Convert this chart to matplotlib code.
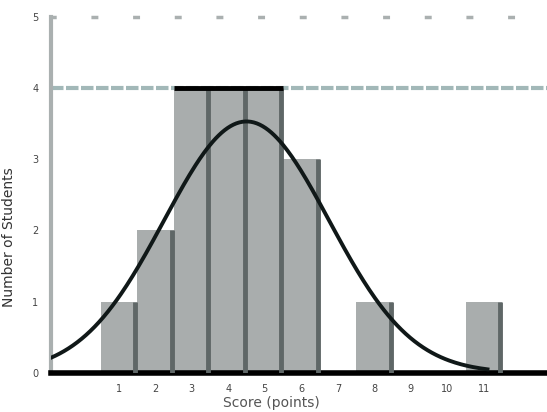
import numpy as np
import matplotlib
matplotlib.use('Agg')
import matplotlib.pyplot as plt

# 柱子：每个区间的频数
bins = [1, 2, 3, 4, 5, 6, 7, 8, 9, 10, 11]
counts = [1, 2, 4, 4, 4, 3, 0, 1, 0, 0, 1]
x_tick_labels = ['1', '2', '3', '4', '5', '6', '7', '8', '9', '10', '11']
y_ticks = [0, 1, 2, 3, 4, 5]

bar_fill = '#a9adad'
bar_edge = '#5f6767'

fig = plt.figure(figsize=(5.47, 4.12), dpi=100)
ax = fig.add_axes([0.093, 0.095, 0.907, 0.864])

b = np.array(bins, dtype=float)
c = np.array(counts, dtype=float)

# 直方图柱子 + 右侧深色边
ax.bar(b, c, width=1.0, color=bar_fill, edgecolor='none', zorder=2)
ax.vlines(b[c > 0] + 0.45, 0, c[c > 0], color=bar_edge, lw=3.5, zorder=3)

# 最大值参考线
ax.axhline(c.max(), color='#a2b8b8', lw=3, ls=(0, (3, 0.6)), zorder=1)
top = b[c == c.max()]
ax.hlines(c.max(), top.min() - 0.5, top.max() + 0.5, color='black', lw=3.5, zorder=3)

# 正态拟合曲线（由柱子数据求均值和标准差）
n = c.sum()
mean = (b * c).sum() / n
sd = np.sqrt(((b - mean) ** 2 * c).sum() / (n - 1))
xs = np.linspace(-0.86, 11.1, 300)
ys = n / (sd * np.sqrt(2 * np.pi)) * np.exp(-(xs - mean) ** 2 / (2 * sd ** 2))
ax.plot(xs, ys, color='#101818', lw=2.8, zorder=4)

ax.set_xlim(-0.86, 12.73)
ax.set_ylim(0, 5)
ax.set_xticks(bins)
ax.set_xticklabels(x_tick_labels)
ax.set_yticks(y_ticks)
ax.tick_params(axis='both', length=0, labelsize=7, colors='#444444')
ax.tick_params(axis='x', pad=8)
ax.tick_params(axis='y', pad=9)

ax.spines['right'].set_visible(False)
ax.spines['left'].set_color('#aab0b0')
ax.spines['left'].set_linewidth(3)
ax.spines['bottom'].set_color('black')
ax.spines['bottom'].set_linewidth(4)
ax.spines['top'].set_color('#aab0b0')
ax.spines['top'].set_linewidth(2.5)
ax.spines['top'].set_linestyle((0, (1, 11)))

ax.set_xlabel('Score (points)', fontsize=10, color='#555555')
ax.xaxis.set_label_coords(0.445, -0.065)
ax.set_ylabel('Number of Students', fontsize=10, color='#333333')
ax.yaxis.set_label_coords(-0.07, 0.38)

fig.savefig('out.png', dpi=100)
